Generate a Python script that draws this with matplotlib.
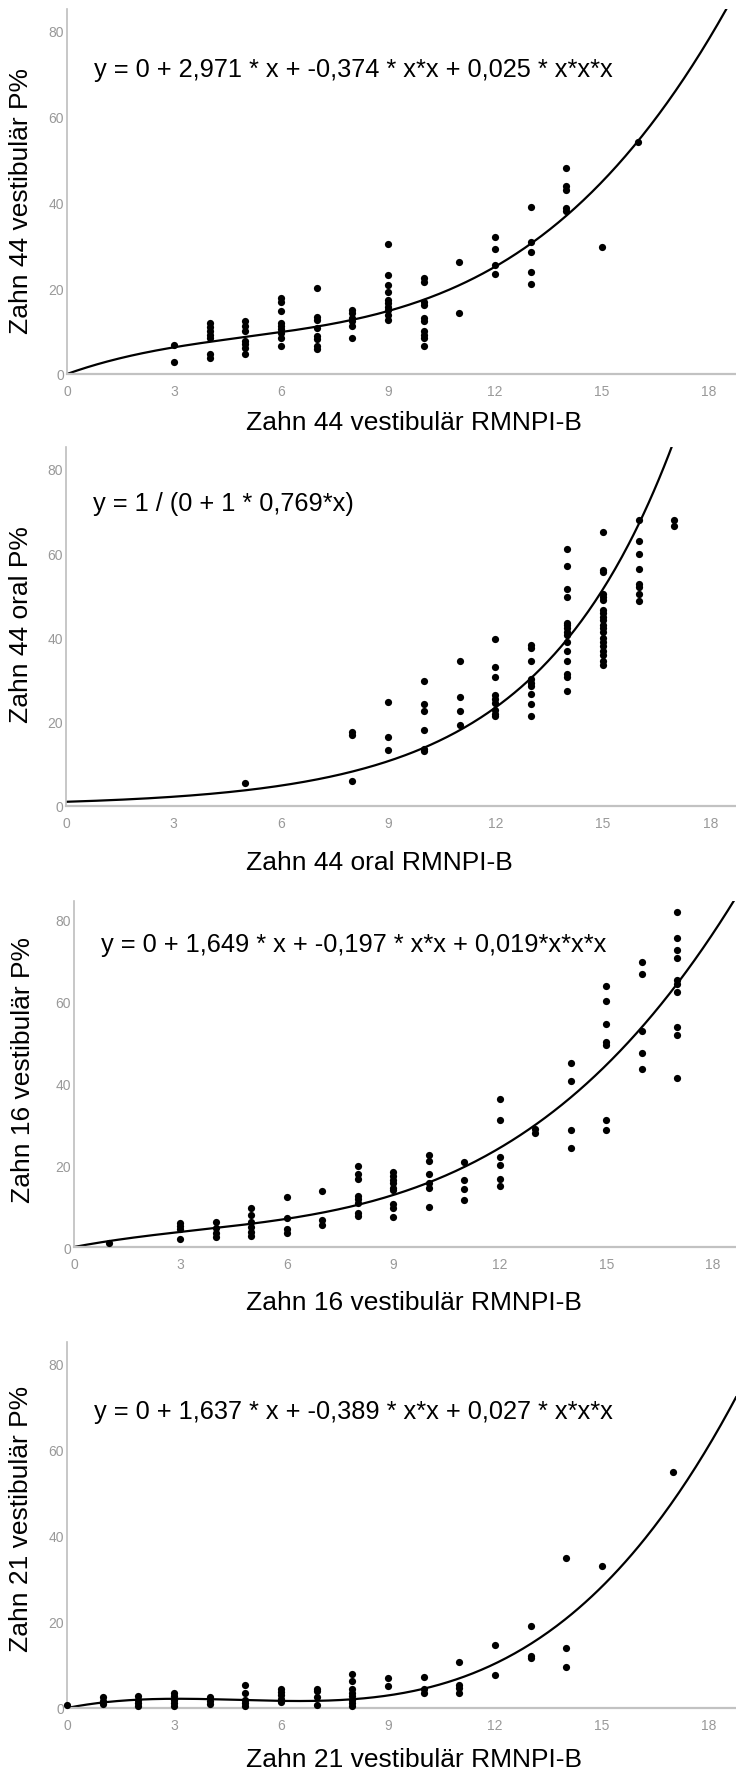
import numpy as np
import matplotlib.pyplot as plt

plt.rcParams['font.family'] = ['Liberation Sans', 'DejaVu Sans']

# ---- data ----
xticks = [0, 3, 6, 9, 12, 15, 18]
yticks = [0, 20, 40, 60, 80]

# Zahn 44 vestibulaer
p1_cols = [3, 4, 5, 6, 7, 8, 9, 10, 11, 12, 13, 14, 15, 16]
p1_vals = [[6.7, 2.7],
           [12, 11, 10, 9, 8.4, 4.6, 3.8],
           [12.3, 11.1, 10, 7.7, 6.9, 6.1, 4.6],
           [17.7, 16.9, 14.6, 11.9, 11.1, 10.4, 9.6, 8.4, 6.5],
           [20, 13.4, 12.7, 10.7, 8.8, 8.1, 6.5, 5.8],
           [15, 14.2, 13, 12.3, 11.1, 8.4],
           [30.3, 23, 20.7, 19.2, 17.3, 16.5, 15.7, 15, 13.8, 12.7],
           [22.3, 21.5, 16.9, 16.1, 13, 12.3, 10, 9.2, 8.4, 6.5],
           [26, 14.2],
           [31.9, 29.2, 25.3, 23.4],
           [39, 30.7, 28.4, 23.8, 21],
           [48, 43.9, 43, 38.8, 38],
           [29.6],
           [54.1]]
p1_coef = [0, 2.971, -0.374, 0.025]

# Zahn 44 oral
p2_cols = [5, 8, 9, 10, 11, 12, 13, 14, 15, 16, 17]
p2_vals = [[5.5],
           [17.5, 16.9, 5.9],
           [24.8, 16.3, 13.4],
           [29.6, 24.3, 22.5, 18, 13.6, 13],
           [34.3, 25.8, 22.6, 19.3],
           [39.7, 32.9, 30.5, 26.4, 25.4, 24.4, 22.7, 21.9, 21.3],
           [38.2, 37.4, 34.3, 30.1, 29.2, 28.4, 26.6, 24.3, 21.3],
           [60.9, 56.9, 51.6, 49.6, 43.5, 42.9, 42.2, 41.4, 40.6, 39, 36.8,
            34.3, 31.3, 30.6, 27.4],
           [65, 56.1, 55.6, 50.4, 49.6, 48.9, 46.5, 45.7, 44.9, 44.1, 42.9,
            42.2, 41.4, 39.8, 39, 38, 36.8, 35.9, 34.4, 33.5],
           [67.9, 63, 59.7, 56.3, 52.8, 52, 50.4, 48.6],
           [67.9, 66.4]]
p2_base = 0.769

# Zahn 16 vestibulaer
p3_cols = [1, 3, 4, 5, 6, 7, 8, 9, 10, 11, 12, 13, 14, 15, 16, 17]
p3_vals = [[1.1],
           [5.8, 5.1, 4.3, 1.9],
           [6, 4.7, 3.5, 2.5],
           [9.5, 7.8, 6, 4.9, 3.7, 2.7],
           [12.3, 7, 4.3, 3.5],
           [13.7, 6.6, 5.5],
           [19.7, 17.8, 16.7, 12.5, 11.7, 10.8, 8.4, 7.6],
           [18.4, 17.4, 16.3, 15.7, 14.5, 13.9, 10.4, 9.6, 7.3],
           [22.5, 21, 17.8, 15.6, 14.5, 9.8],
           [20.8, 16.4, 14.3, 11.5],
           [36.3, 31, 21.9, 20, 16.6, 14.9],
           [28.8, 27.8],
           [44.9, 40.7, 28.6, 24.1],
           [63.7, 60.2, 54.5, 50.2, 49.3, 31.1, 28.6],
           [69.7, 66.7, 52.9, 47.4, 43.6],
           [82, 75.5, 72.7, 70.6, 65.3, 64.3, 62.4, 53.9, 51.9, 41.2]]
p3_coef = [0, 1.649, -0.197, 0.019]

# Zahn 21 vestibulaer
p4_cols = [0, 1, 2, 3, 4, 5, 6, 7, 8, 9, 10, 11, 12, 13, 14, 15, 17]
p4_vals = [[0.8],
           [2.5, 1.7, 0.9],
           [2.7, 1.9, 1.2, 0.4],
           [3.5, 2.7, 1.9, 1.2, 0.4],
           [2.5, 1.7, 0.9],
           [5.3, 3.5, 1.9, 1.2, 0.4],
           [4.5, 3.7, 2.9, 2.2, 1.4],
           [4.5, 3.9, 2.5, 0.8],
           [7.9, 6.3, 4.3, 3.5, 2.7, 1.9, 1.2, 0.4],
           [7, 5],
           [7.2, 4.3, 3.5],
           [10.7, 5.3, 4.6, 3.5],
           [14.5, 7.7],
           [19.1, 12.1, 11.6],
           [34.9, 13.9, 9.4],
           [33],
           [54.7]]
p4_coef = [0, 1.637, -0.389, 0.027]

W, H = 736, 1774
fig = plt.figure(figsize=(W / 100, H / 100), dpi=100)


def cubic(c):
    return lambda x: c[0] + c[1] * x + c[2] * x**2 + c[3] * x**3


def panel(left, top, bottom, xmax, ymax, cols, vals, fit, eq, eq_y,
          xlab, xlab_y, ylab, ylab_x, ylab_y):
    ax = fig.add_axes([left / W, 1 - bottom / H, 1 - left / W, (bottom - top) / H])
    xs = np.repeat(cols, [len(v) for v in vals])
    ys = np.concatenate(vals)
    ax.scatter(xs, ys, s=27, c='black', linewidths=0, zorder=3, clip_on=False)
    gx = np.linspace(0, xmax, 400)
    ax.plot(gx, fit(gx), color='black', lw=1.6, zorder=2)
    ax.set_xlim(0, xmax)
    ax.set_ylim(0, ymax)
    ax.set_xticks(xticks)
    ax.set_yticks(yticks)
    for s in ['top', 'right']:
        ax.spines[s].set_visible(False)
    ax.spines['left'].set_color('#bdbdbd')
    ax.spines['left'].set_linewidth(1.2)
    ax.spines['bottom'].set_color('#c2c2c2')
    ax.spines['bottom'].set_linewidth(1.6)
    ax.tick_params(axis='both', length=0, labelsize=10, labelcolor='#999999')
    ax.tick_params(axis='x', pad=7)
    ax.tick_params(axis='y', pad=2)
    ax.text(0.75, eq_y, eq, fontsize=18.3, ha='left', va='center', color='black')
    fig.text(246 / W, 1 - xlab_y / H, xlab, fontsize=19, ha='left', va='center')
    fig.text(ylab_x / W, 1 - ylab_y / H, ylab, fontsize=19, rotation=90,
             ha='center', va='center')
    return ax


panel(67, 10, 375, 18.76, 85.1, p1_cols, p1_vals, cubic(p1_coef),
      'y = 0 + 2,971 * x + -0,374 * x*x + 0,025 * x*x*x', 71,
      'Zahn 44 vestibulär RMNPI-B', 423, 'Zahn 44 vestibulär P%', 21, 201)

panel(66, 448, 807, 18.72, 85.2, p2_cols, p2_vals, lambda x: 1 / p2_base**x,
      'y = 1 / (0 + 1 * 0,769*x)', 72,
      'Zahn 44 oral RMNPI-B', 863, 'Zahn 44 oral P%', 21, 625)

panel(74, 902, 1248, 18.65, 84.6, p3_cols, p3_vals, cubic(p3_coef),
      'y = 0 + 1,649 * x + -0,197 * x*x + 0,019*x*x*x', 74,
      'Zahn 16 vestibulär RMNPI-B', 1303, 'Zahn 16 vestibulär P%', 23, 1070)

panel(67, 1343, 1709, 18.76, 84.9, p4_cols, p4_vals, cubic(p4_coef),
      'y = 0 + 1,637 * x + -0,389 * x*x + 0,027 * x*x*x', 69,
      'Zahn 21 vestibulär RMNPI-B', 1760, 'Zahn 21 vestibulär P%', 21, 1519)

fig.savefig('out.png', dpi=100)
